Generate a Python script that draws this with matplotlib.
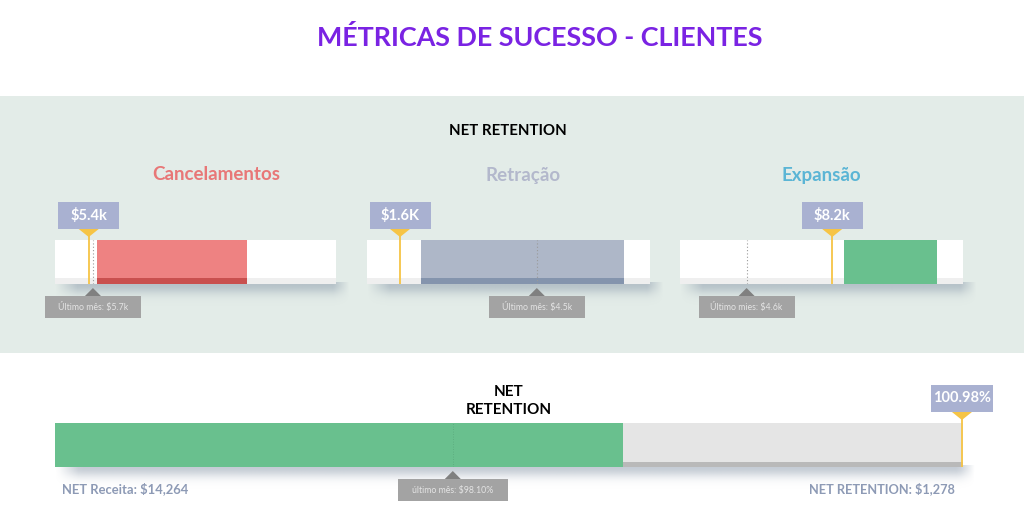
import numpy as np
import matplotlib
matplotlib.use('Agg')
import matplotlib.pyplot as plt
from matplotlib.patches import Rectangle, Polygon
from matplotlib.colors import to_rgb

plt.rcParams['text.parse_math'] = False
plt.rcParams['font.family'] = ['Lato', 'DejaVu Sans']

# ---- dados ----
gauge_names = ['Cancelamentos', 'Retração', 'Expansão']
gauge_min = [3.0, 0.9, 1.8]
gauge_max = [23.0, 6.9, 13.7]
band_start = [6.0, 2.05, 8.7]
band_end = [16.7, 6.35, 12.6]
current = [5.4, 1.6, 8.2]
current_labels = ['$5.4k', '$1.6K', '$8.2k']
last_month = [5.7, 4.5, 4.6]
last_month_labels = ['Último mês: $5.7k', 'Último mês: $4.5k', 'Último mies: $4.6k']

net_min, net_max = 95.85, 100.986
net_fill = 99.06
net_value = 100.98
net_value_label = '100.98%'
net_last = 98.10
net_last_label = 'último mês: $98.10%'
net_receita_label = 'NET Receita: $14,264'
net_retention_label = 'NET RETENTION: $1,278'

# ---- estilos ----
W, H = 1024, 523
purple = '#7a23e3'
panel_col = '#e3ece8'
yellow = '#f6c445'
box_col = '#a9b1d1'
gray_box = '#a3a3a3'
gray_tri = '#808080'
title_cols = ['#e87777', '#b3b8cc', '#5bb5d5']
band_cols = ['#ee8282', '#aeb7c8', '#69c08e']
strip_cols = ['#c9504f', '#8494ad', '#69c08e']
gauge_px = [(55, 240, 336, 284), (367, 240, 650, 284), (680, 240, 963, 284)]
title_x = [216, 523, 821]
net_px = (55, 423, 963, 467)

fig = plt.figure(figsize=(W / 100, H / 100), dpi=100)
fig.patch.set_facecolor('white')


def px_axes(x0, y0, x1, y1, z):
    return fig.add_axes([x0 / W, 1 - y1 / H, (x1 - x0) / W, (y1 - y0) / H], zorder=z)


def pixel_axes(z):
    a = fig.add_axes([0, 0, 1, 1], zorder=z)
    a.set_xlim(0, W)
    a.set_ylim(H, 0)
    a.axis('off')
    a.patch.set_alpha(0)
    return a


bg = pixel_axes(0)
over = pixel_axes(2)

bg.add_patch(Rectangle((0, 96), W, 257, color=panel_col, lw=0))


def shadow(x0, y1, x1):
    xs = np.linspace(x0 - 2, x1 + 14, 200)
    ys = np.linspace(y1 - 2, y1 + 26, 60)
    ay = np.exp(-(np.clip(ys - y1, 0, None) / 10.0) ** 2)
    ax_ = np.clip((xs - x0) / 22.0, 0, 1) * np.clip((x1 + 14 - xs) / 16.0, 0, 1)
    alpha = 0.48 * np.outer(ay, ax_)
    img = np.zeros((len(ys), len(xs), 4))
    img[..., :3] = to_rgb('#8796a8')
    img[..., 3] = alpha
    bg.imshow(img, extent=(xs[0], xs[-1], ys[-1], ys[0]), aspect='auto',
              interpolation='bilinear', zorder=1)


def to_px(ax, x, y):
    d = ax.transData.transform((x, y))
    return over.transData.inverted().transform(d)


def value_box(ax, v, label, w=61):
    px, top = to_px(ax, v, 1)
    _, bot = to_px(ax, v, 0)
    over.add_patch(Rectangle((px - w / 2, top - 38), w, 27, color=box_col, lw=0))
    over.text(px, top - 24.5, label, ha='center', va='center', color='white',
              fontsize=10.5, fontweight='bold')
    over.add_patch(Polygon([(px - 10, top - 11), (px + 10, top - 11), (px, top - 3)],
                           color=yellow, lw=0))
    over.plot([px, px], [top - 4, bot], color=yellow, lw=1.3, solid_capstyle='butt')


def last_box(ax, v, label, w=96):
    px, bot = to_px(ax, v, 0)
    over.add_patch(Polygon([(px - 8, bot + 12), (px + 8, bot + 12), (px, bot + 4)],
                           color=gray_tri, lw=0))
    over.add_patch(Rectangle((px - w / 2, bot + 12), w, 22, color=gray_box, lw=0))
    over.text(px, bot + 23, label, ha='center', va='center', color='#e4e4e4',
              fontsize=6.3)


# ---- gauges ----
for i in range(3):
    x0, y0, x1, y1 = gauge_px[i]
    shadow(x0, y1, x1)
    ax = px_axes(x0, y0, x1, y1, 1)
    lo, hi = gauge_min[i], gauge_max[i]
    ax.set_xlim(lo, hi)
    ax.set_ylim(0, 1)
    ax.axis('off')
    ax.barh(0.57, hi - lo, left=lo, height=0.86, color='white')
    ax.barh(0.07, hi - lo, left=lo, height=0.14, color='#efefef')
    ax.barh(0.5, band_end[i] - band_start[i], left=band_start[i], height=1.0,
            color=band_cols[i])
    ax.barh(0.07, band_end[i] - band_start[i], left=band_start[i], height=0.14,
            color=strip_cols[i])
    ax.plot([last_month[i]] * 2, [0, 1], ls=(0, (1, 2)), color='#9a9a9a', lw=0.8)
    value_box(ax, current[i], current_labels[i])
    last_box(ax, last_month[i], last_month_labels[i])
    over.text(title_x[i], 175, gauge_names[i], ha='center', va='center',
              color=title_cols[i], fontsize=13.5, fontweight='bold')

# ---- barra net retention ----
x0, y0, x1, y1 = net_px
shadow(x0, y1, x1)
axn = px_axes(x0, y0, x1, y1, 1)
axn.set_xlim(net_min, net_max)
axn.set_ylim(0, 1)
axn.axis('off')
axn.barh(0.56, net_max - net_min, left=net_min, height=0.88, color='#e5e5e5')
axn.barh(0.06, net_max - net_min, left=net_min, height=0.12, color='#b9b9b9')
axn.barh(0.5, net_fill - net_min, left=net_min, height=1.0, color='#69c08e')
axn.plot([net_last] * 2, [0, 1], ls=(0, (1, 2)), color='#5aa97c', lw=0.6)
value_box(axn, net_value, net_value_label, w=62)
last_box(axn, net_last, net_last_label, w=110)

bg.set_xlim(0, W)
bg.set_ylim(H, 0)

# ---- textos ----
over.text(540, 38, 'MÉTRICAS DE SUCESSO - CLIENTES', ha='center', va='center',
          color=purple, fontsize=19.4, fontweight='bold')
over.text(508, 131, 'NET RETENTION', ha='center', va='center', color='black',
          fontsize=10.8, fontweight='bold')
over.text(509, 401, 'NET\nRETENTION', ha='center', va='center', color='black',
          fontsize=11, fontweight='bold', linespacing=1.3)
over.text(62, 489, net_receita_label, ha='left', va='center', color='#8d9ab5',
          fontsize=9.4, fontweight='bold')
over.text(955, 489, net_retention_label, ha='right', va='center', color='#8d9ab5',
          fontsize=9.2, fontweight='bold')

fig.savefig('out.png', dpi=100, facecolor='white')
